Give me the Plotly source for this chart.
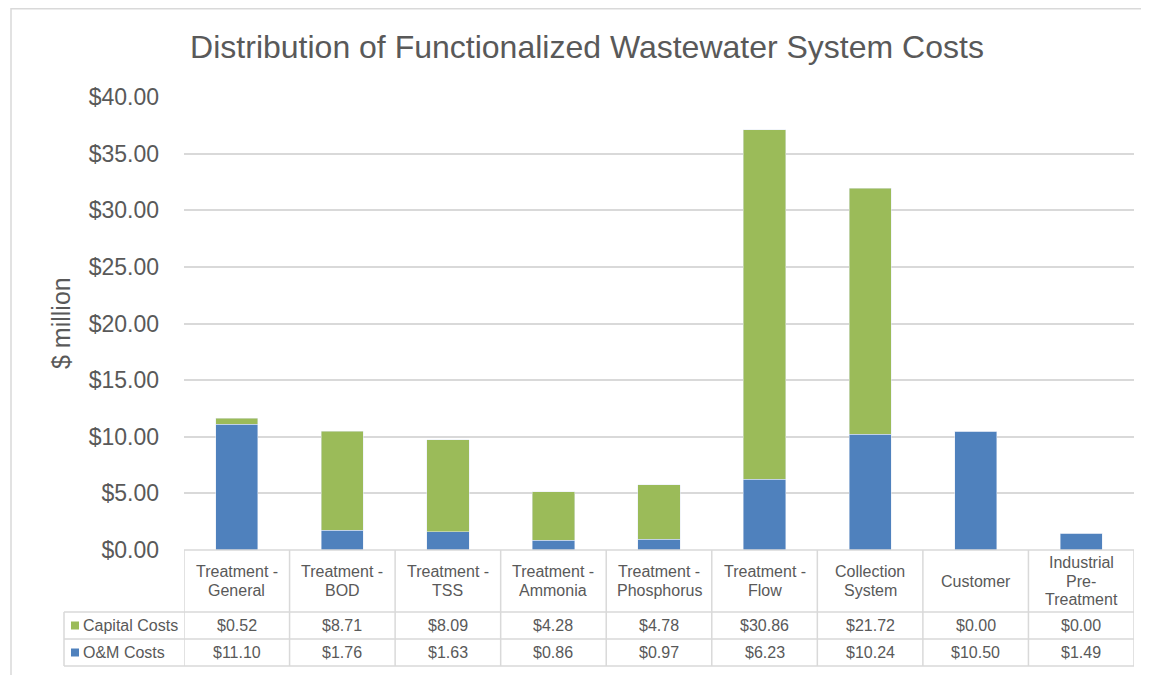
import plotly.graph_objects as go

categories = ["Treatment - General", "Treatment - BOD", "Treatment - TSS", "Treatment - Ammonia",
              "Treatment - Phosphorus", "Treatment - Flow", "Collection System", "Customer",
              "Industrial Pre-Treatment"]
header_labels = [["Treatment -", "General"], ["Treatment -", "BOD"], ["Treatment -", "TSS"],
                 ["Treatment -", "Ammonia"], ["Treatment -", "Phosphorus"], ["Treatment -", "Flow"],
                 ["Collection", "System"], ["Customer"], ["Industrial", "Pre-", "Treatment"]]
capital_costs = [0.52, 8.71, 8.09, 4.28, 4.78, 30.86, 21.72, 0.00, 0.00]
om_costs = [11.10, 1.76, 1.63, 0.86, 0.97, 6.23, 10.24, 10.50, 1.49]
y_ticks = [0, 5, 10, 15, 20, 25, 30, 35, 40]
y_tick_labels = [f"${v:.2f}" for v in y_ticks]

# page body margin offset (browser default)
OFF = 8
SCREEN_W, SCREEN_H = 1149, 675
W, H = SCREEN_W - OFF, SCREEN_H - OFF
# plot area in screen pixels
L, R, T, B = 184, 1134, 97, 550
BLUE = "#4F81BD"
GREEN = "#9BBB59"
GRID = "#D9D9D9"
TXT = "#595959"
FONT = "Liberation Sans"
LINE_H = 18.5


def px(x):
    return (x - L) / (R - L)


def py(y):
    return (B - y) / (B - T)


fig = go.Figure()
fig.add_trace(go.Bar(x=list(range(len(categories))), y=om_costs, name="O&M Costs",
                     marker_color=BLUE, width=0.4, hoverinfo="skip"))
fig.add_trace(go.Bar(x=list(range(len(categories))), y=capital_costs, name="Capital Costs",
                     marker_color=GREEN, width=0.4, hoverinfo="skip"))

shapes = []
annotations = []
n = len(categories)
line = dict(color=GRID, width=1.5)

# outer chart border
shapes.append(dict(type="rect", xref="paper", yref="paper", x0=px(11), x1=px(1165),
                   y0=py(8.8), y1=py(690), line=dict(color=GRID, width=1.5)))

# table lines
row_header_bottom, row1_bottom, row2_bottom = 612, 639, 666
shapes.append(dict(type="line", xref="paper", yref="paper", x0=px(L), x1=px(R), y0=py(B), y1=py(B), line=line))
for yy in (row_header_bottom, row1_bottom, row2_bottom):
    shapes.append(dict(type="line", xref="paper", yref="paper", x0=px(64), x1=px(R), y0=py(yy), y1=py(yy), line=line))
shapes.append(dict(type="line", xref="paper", yref="paper", x0=px(64), x1=px(64),
                   y0=py(row_header_bottom), y1=py(row2_bottom), line=line))
for i in range(n + 1):
    shapes.append(dict(type="line", xref="x", yref="paper", x0=i - 0.5, x1=i - 0.5,
                       y0=py(B), y1=py(row2_bottom), line=line))

# header labels (one annotation per line for tight line spacing)
hc = (B + row_header_bottom) / 2
for i, lines in enumerate(header_labels):
    k = len(lines)
    for j, txt in enumerate(lines):
        yc = hc + (j - (k - 1) / 2) * LINE_H
        annotations.append(dict(x=i, xref="x", y=py(yc), yref="paper",
                                text=txt, showarrow=False, font=dict(size=16, color=TXT, family=FONT),
                                xanchor="center", yanchor="middle", align="center"))

rows = [("Capital Costs", capital_costs, GREEN, (row_header_bottom + row1_bottom) / 2),
        ("O&M Costs", om_costs, BLUE, (row1_bottom + row2_bottom) / 2)]
for name, vals, col, yc in rows:
    shapes.append(dict(type="rect", xref="paper", yref="paper", x0=px(71), x1=px(79),
                       y0=py(yc - 4), y1=py(yc + 4), fillcolor=col, line=dict(width=0)))
    annotations.append(dict(x=px(81), xref="paper", y=py(yc), yref="paper", text=name,
                            showarrow=False, font=dict(size=16, color=TXT, family=FONT),
                            xanchor="left", yanchor="middle"))
    for i, v in enumerate(vals):
        annotations.append(dict(x=i, xref="x", y=py(yc), yref="paper", text=f"${v:.2f}",
                                showarrow=False, font=dict(size=16, color=TXT, family=FONT),
                                xanchor="center", yanchor="middle"))

# y axis title
annotations.append(dict(x=px(61), xref="paper", y=py(323), yref="paper", text="$ million",
                        textangle=-90, showarrow=False, font=dict(size=25, color=TXT, family=FONT),
                        xanchor="center", yanchor="middle"))

fig.update_layout(
    width=W, height=H,
    margin=dict(l=L - OFF, r=SCREEN_W - R, t=T - OFF, b=SCREEN_H - B),
    barmode="stack",
    plot_bgcolor="white", paper_bgcolor="white",
    showlegend=False,
    font=dict(family=FONT, color=TXT),
    title=dict(text="Distribution of Functionalized Wastewater System Costs",
               x=(587 - OFF) / W, xanchor="center", xref="container",
               y=1 - (47 - OFF) / H, yanchor="middle", yref="container",
               font=dict(size=32, color=TXT, family=FONT)),
    xaxis=dict(range=[-0.5, n - 0.5], showticklabels=False, showgrid=False, zeroline=False,
               showline=False, fixedrange=True),
    yaxis=dict(range=[0, 40], tickvals=y_ticks, ticktext=y_tick_labels,
               showgrid=True, gridcolor=GRID, gridwidth=1.5, zeroline=False, showline=False,
               tickfont=dict(size=23, color=TXT, family=FONT), ticklabelstandoff=24,
               fixedrange=True),
    shapes=shapes,
    annotations=annotations,
)

fig.write_html("out.html")
